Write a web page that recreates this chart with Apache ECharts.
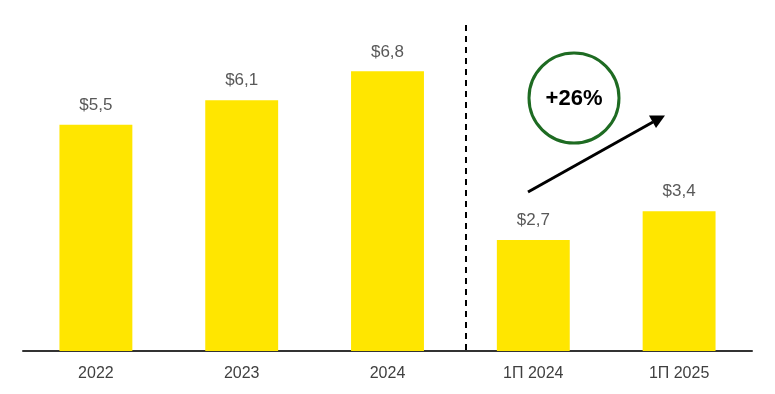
<!DOCTYPE html>
<html><head><meta charset="utf-8">
<script src="https://cdn.jsdelivr.net/npm/echarts@6/dist/echarts.min.js"></script>
<style>html,body{margin:0;padding:0;background:#fff}#c{width:775px;height:394px}</style>
</head><body><div id="c"></div>
<script>
const categories = ['2022', '2023', '2024', '1П 2024', '1П 2025'];
const values = [5.5, 6.1, 6.8, 2.7, 3.4];
const valueLabels = ['$5,5', '$6,1', '$6,8', '$2,7', '$3,4'];
const growthText = '+26%';

const chart = echarts.init(document.getElementById('c'));
const font = '"Liberation Sans", Arial, sans-serif';
chart.setOption({
  animation: false,
  grid: { left: 23, right: 23, top: 22, bottom: 43 },
  xAxis: {
    type: 'category', data: categories,
    axisLine: { lineStyle: { color: '#333', width: 2 } },
    axisTick: { show: false },
    axisLabel: { color: '#404040', fontSize: 16, fontFamily: font, margin: 15 }
  },
  yAxis: { type: 'value', min: 0, max: 8, show: false, splitLine: { show: false } },
  series: [{
    type: 'bar', data: values, barWidth: '50%',
    itemStyle: { color: '#FFE600' },
    label: {
      show: true, position: 'top', distance: 11, color: '#595959',
      fontSize: 17, fontFamily: font,
      formatter: p => valueLabels[p.dataIndex]
    }
  }],
  graphic: [
    { type: 'line', shape: { x1: 466, y1: 25, x2: 466, y2: 350 },
      style: { stroke: '#000', lineWidth: 2, lineDash: [6, 5] } },
    { type: 'circle', shape: { cx: 574, cy: 98, r: 45 },
      style: { fill: 'none', stroke: '#1E6B22', lineWidth: 3 } },
    { type: 'text', x: 574, y: 99,
      style: { text: growthText, fill: '#000', font: 'bold 22px ' + font, align: 'center', verticalAlign: 'middle' } },
    { type: 'line', shape: { x1: 528, y1: 192, x2: 653, y2: 122 },
      style: { stroke: '#000', lineWidth: 3 } },
    { type: 'polygon', shape: { points: [[665, 115.5], [656, 128], [649, 115.5]] },
      style: { fill: '#000' } }
  ]
});
</script></body></html>
